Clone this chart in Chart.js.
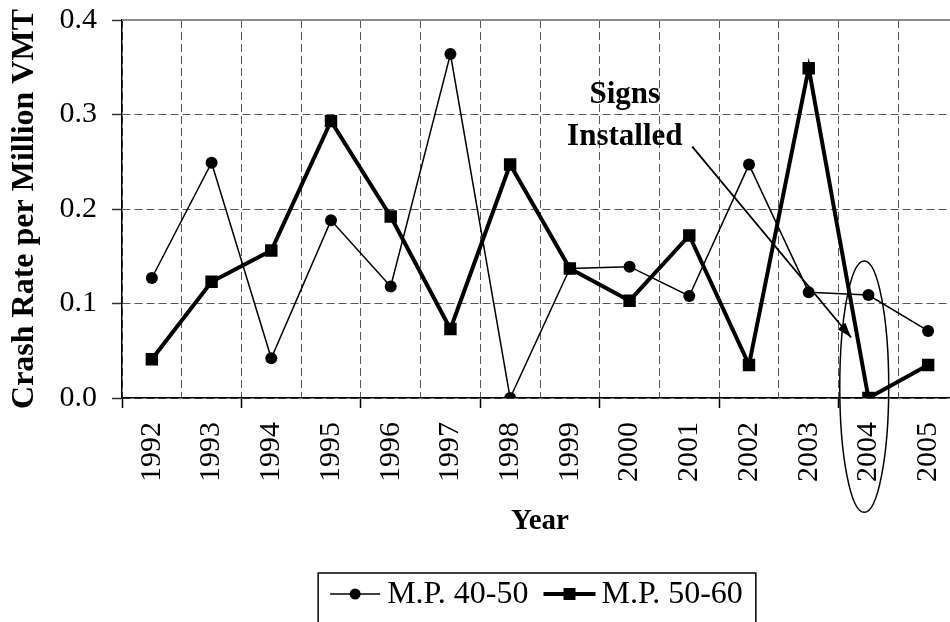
<!DOCTYPE html>
<html>
<head>
<meta charset="utf-8">
<script src="https://cdn.jsdelivr.net/npm/chart.js@4.4.0/dist/chart.umd.min.js"></script>
<style>
html,body{margin:0;padding:0;background:#fff;overflow:hidden;}
#wrap{width:980px;height:622px;}
</style>
</head>
<body>
<div id="wrap"><canvas id="myChart" width="980" height="622"></canvas></div>
<script>
var years=['1992','1993','1994','1995','1996','1997','1998','1999','2000','2001','2002','2003','2004','2005'];
var mp4050=[0.127,0.249,0.042,0.188,0.118,0.364,0.0,0.137,0.139,0.108,0.247,0.112,0.109,0.071];
var mp5060=[0.041,0.123,0.156,0.293,0.192,0.073,0.247,0.137,0.103,0.172,0.035,0.349,0.0,0.035];
var yTicks=[0,0.1,0.2,0.3,0.4];
var seriesNames=['M.P. 40-50','M.P. 50-60'];
var noteText=['Signs','Installed'];
var noteYear='2004';

var serif='"Liberation Serif","Times New Roman",serif';

// "Signs Installed" note, arrow, ellipse and the boxed legend
var extras={
    id:'extras',
    beforeDatasetsDraw:function(chart){
        var ctx=chart.ctx, a=chart.chartArea;
        ctx.save();
        ctx.strokeStyle='#8a8a8a';
        ctx.lineWidth=2;
        ctx.beginPath();
        ctx.moveTo(a.left,a.top);
        ctx.lineTo(a.right,a.top);
        ctx.stroke();
        ctx.restore();
    },
    afterDraw:function(chart){
        var ctx=chart.ctx, a=chart.chartArea, xs=chart.scales.x, ys=chart.scales.y;
        var k=years.indexOf(noteYear);
        ctx.save();
        ctx.fillStyle='#000';
        ctx.strokeStyle='#000';
        // note text
        ctx.font='bold 31px '+serif;
        ctx.textAlign='center';
        ctx.textBaseline='middle';
        ctx.fillText(noteText[0],xs.getPixelForValue(k-4.08),ys.getPixelForValue(0.321));
        ctx.fillText(noteText[1],xs.getPixelForValue(k-4.08),ys.getPixelForValue(0.276));
        // arrow
        var x1=xs.getPixelForValue(k-2.95), y1=ys.getPixelForValue(0.266);
        var x2=xs.getPixelForValue(k-0.29), y2=ys.getPixelForValue(0.064);
        ctx.lineWidth=1.8;
        ctx.beginPath();
        ctx.moveTo(x1,y1);
        ctx.lineTo(x2,y2);
        ctx.stroke();
        var ang=Math.atan2(y2-y1,x2-x1);
        ctx.beginPath();
        ctx.moveTo(x2,y2);
        ctx.lineTo(x2-15*Math.cos(ang)+5*Math.sin(ang),y2-15*Math.sin(ang)-5*Math.cos(ang));
        ctx.lineTo(x2-15*Math.cos(ang)-5*Math.sin(ang),y2-15*Math.sin(ang)+5*Math.cos(ang));
        ctx.closePath();
        ctx.fill();
        // ellipse round the sign year
        var cx=xs.getPixelForValue(k-0.07), cy=ys.getPixelForValue(0.012);
        var rx=xs.getPixelForValue(k+0.34)-cx, ry=cy-ys.getPixelForValue(0.145);
        ctx.lineWidth=1.5;
        ctx.beginPath();
        ctx.ellipse(cx,cy,rx,ry,0,0,Math.PI*2);
        ctx.stroke();

        // legend
        ctx.font='32px '+serif;
        ctx.textAlign='left';
        var w1=ctx.measureText(seriesNames[0]).width, w2=ctx.measureText(seriesNames[1]).width;
        var total=12+50+7+w1+15+52+6+w2+13;
        var left=(a.left+a.right)/2-total/2-3, top=a.bottom+175, my=top+21;
        ctx.lineWidth=1.5;
        ctx.strokeRect(left,top,total,80);
        var sx=left+12;
        ctx.lineWidth=1.5;
        ctx.beginPath(); ctx.moveTo(sx,my); ctx.lineTo(sx+50,my); ctx.stroke();
        ctx.beginPath(); ctx.arc(sx+25,my,5.5,0,Math.PI*2); ctx.fill();
        ctx.fillText(seriesNames[0],sx+57,my+1);
        sx=sx+57+w1+15;
        ctx.lineWidth=4;
        ctx.beginPath(); ctx.moveTo(sx,my); ctx.lineTo(sx+52,my); ctx.stroke();
        ctx.fillRect(sx+20,my-6,12,12);
        ctx.fillText(seriesNames[1],sx+58,my+1);
        ctx.restore();
    }
};

var chartdata={
    labels:years,
    datasets:[
        {
            label:seriesNames[0],
            data:mp4050,
            borderColor:'#000',
            backgroundColor:'#000',
            borderWidth:1.5,
            pointStyle:'circle',
            pointRadius:6,
            pointBorderWidth:0,
            tension:0
        },
        {
            label:seriesNames[1],
            data:mp5060,
            borderColor:'#000',
            backgroundColor:'#000',
            borderWidth:4,
            pointStyle:'rect',
            pointRadius:8.8,
            pointBorderWidth:0,
            tension:0
        }
    ]
};

var options={
    responsive:false,
    animation:false,
    layout:{padding:{top:20,right:22,bottom:77,left:0}},
    plugins:{
        legend:{display:false},
        tooltip:{enabled:false}
    },
    scales:{
        x:{
            offset:true,
            grid:{
                offset:true,
                color:'#555',
                lineWidth:1,
                tickLength:10,
                tickWidth:1.5,
                tickColor:function(c){ return c.index%2===0 ? '#000' : 'rgba(0,0,0,0)'; },
                tickBorderDash:[]
            },
            border:{color:'#000',width:1.5,dash:[8,4]},
            ticks:{
                color:'#000',
                font:{family:serif,size:30},
                minRotation:90,
                maxRotation:90,
                padding:14,
                autoSkip:false
            },
            title:{
                display:true,
                text:'Year',
                color:'#000',
                font:{family:serif,size:29,weight:'bold'},
                padding:{top:0,bottom:6}
            },
            afterFit:function(scale){ scale.height=147; scale.paddingTop=0; }
        },
        y:{
            min:0,
            max:0.4,
            afterBuildTicks:function(scale){
                scale.ticks=yTicks.map(function(v){ return {value:v}; });
            },
            grid:{
                color:function(c){ return (c.tick && c.tick.value>=0.4) ? 'rgba(0,0,0,0)' : '#555'; },
                lineWidth:1,
                tickLength:10,
                tickWidth:1.5,
                tickColor:'#333',
                tickBorderDash:[]
            },
            border:{color:'#000',width:1.5,dash:[8,4]},
            ticks:{
                color:'#000',
                font:{family:serif,size:30},
                padding:15,
                callback:function(v){ return Number(v).toFixed(1); }
            },
            title:{
                display:true,
                text:'Crash Rate per Million VMT',
                color:'#000',
                font:{family:serif,size:32,weight:'bold'},
                padding:{top:6,bottom:0}
            },
            afterFit:function(scale){ scale.width=122; scale.paddingTop=0; scale.paddingBottom=0; }
        }
    }
};

var graph=new Chart(document.getElementById('myChart'),{
    type:'line',
    data:chartdata,
    options:options,
    plugins:[extras]
});
</script>
</body>
</html>
